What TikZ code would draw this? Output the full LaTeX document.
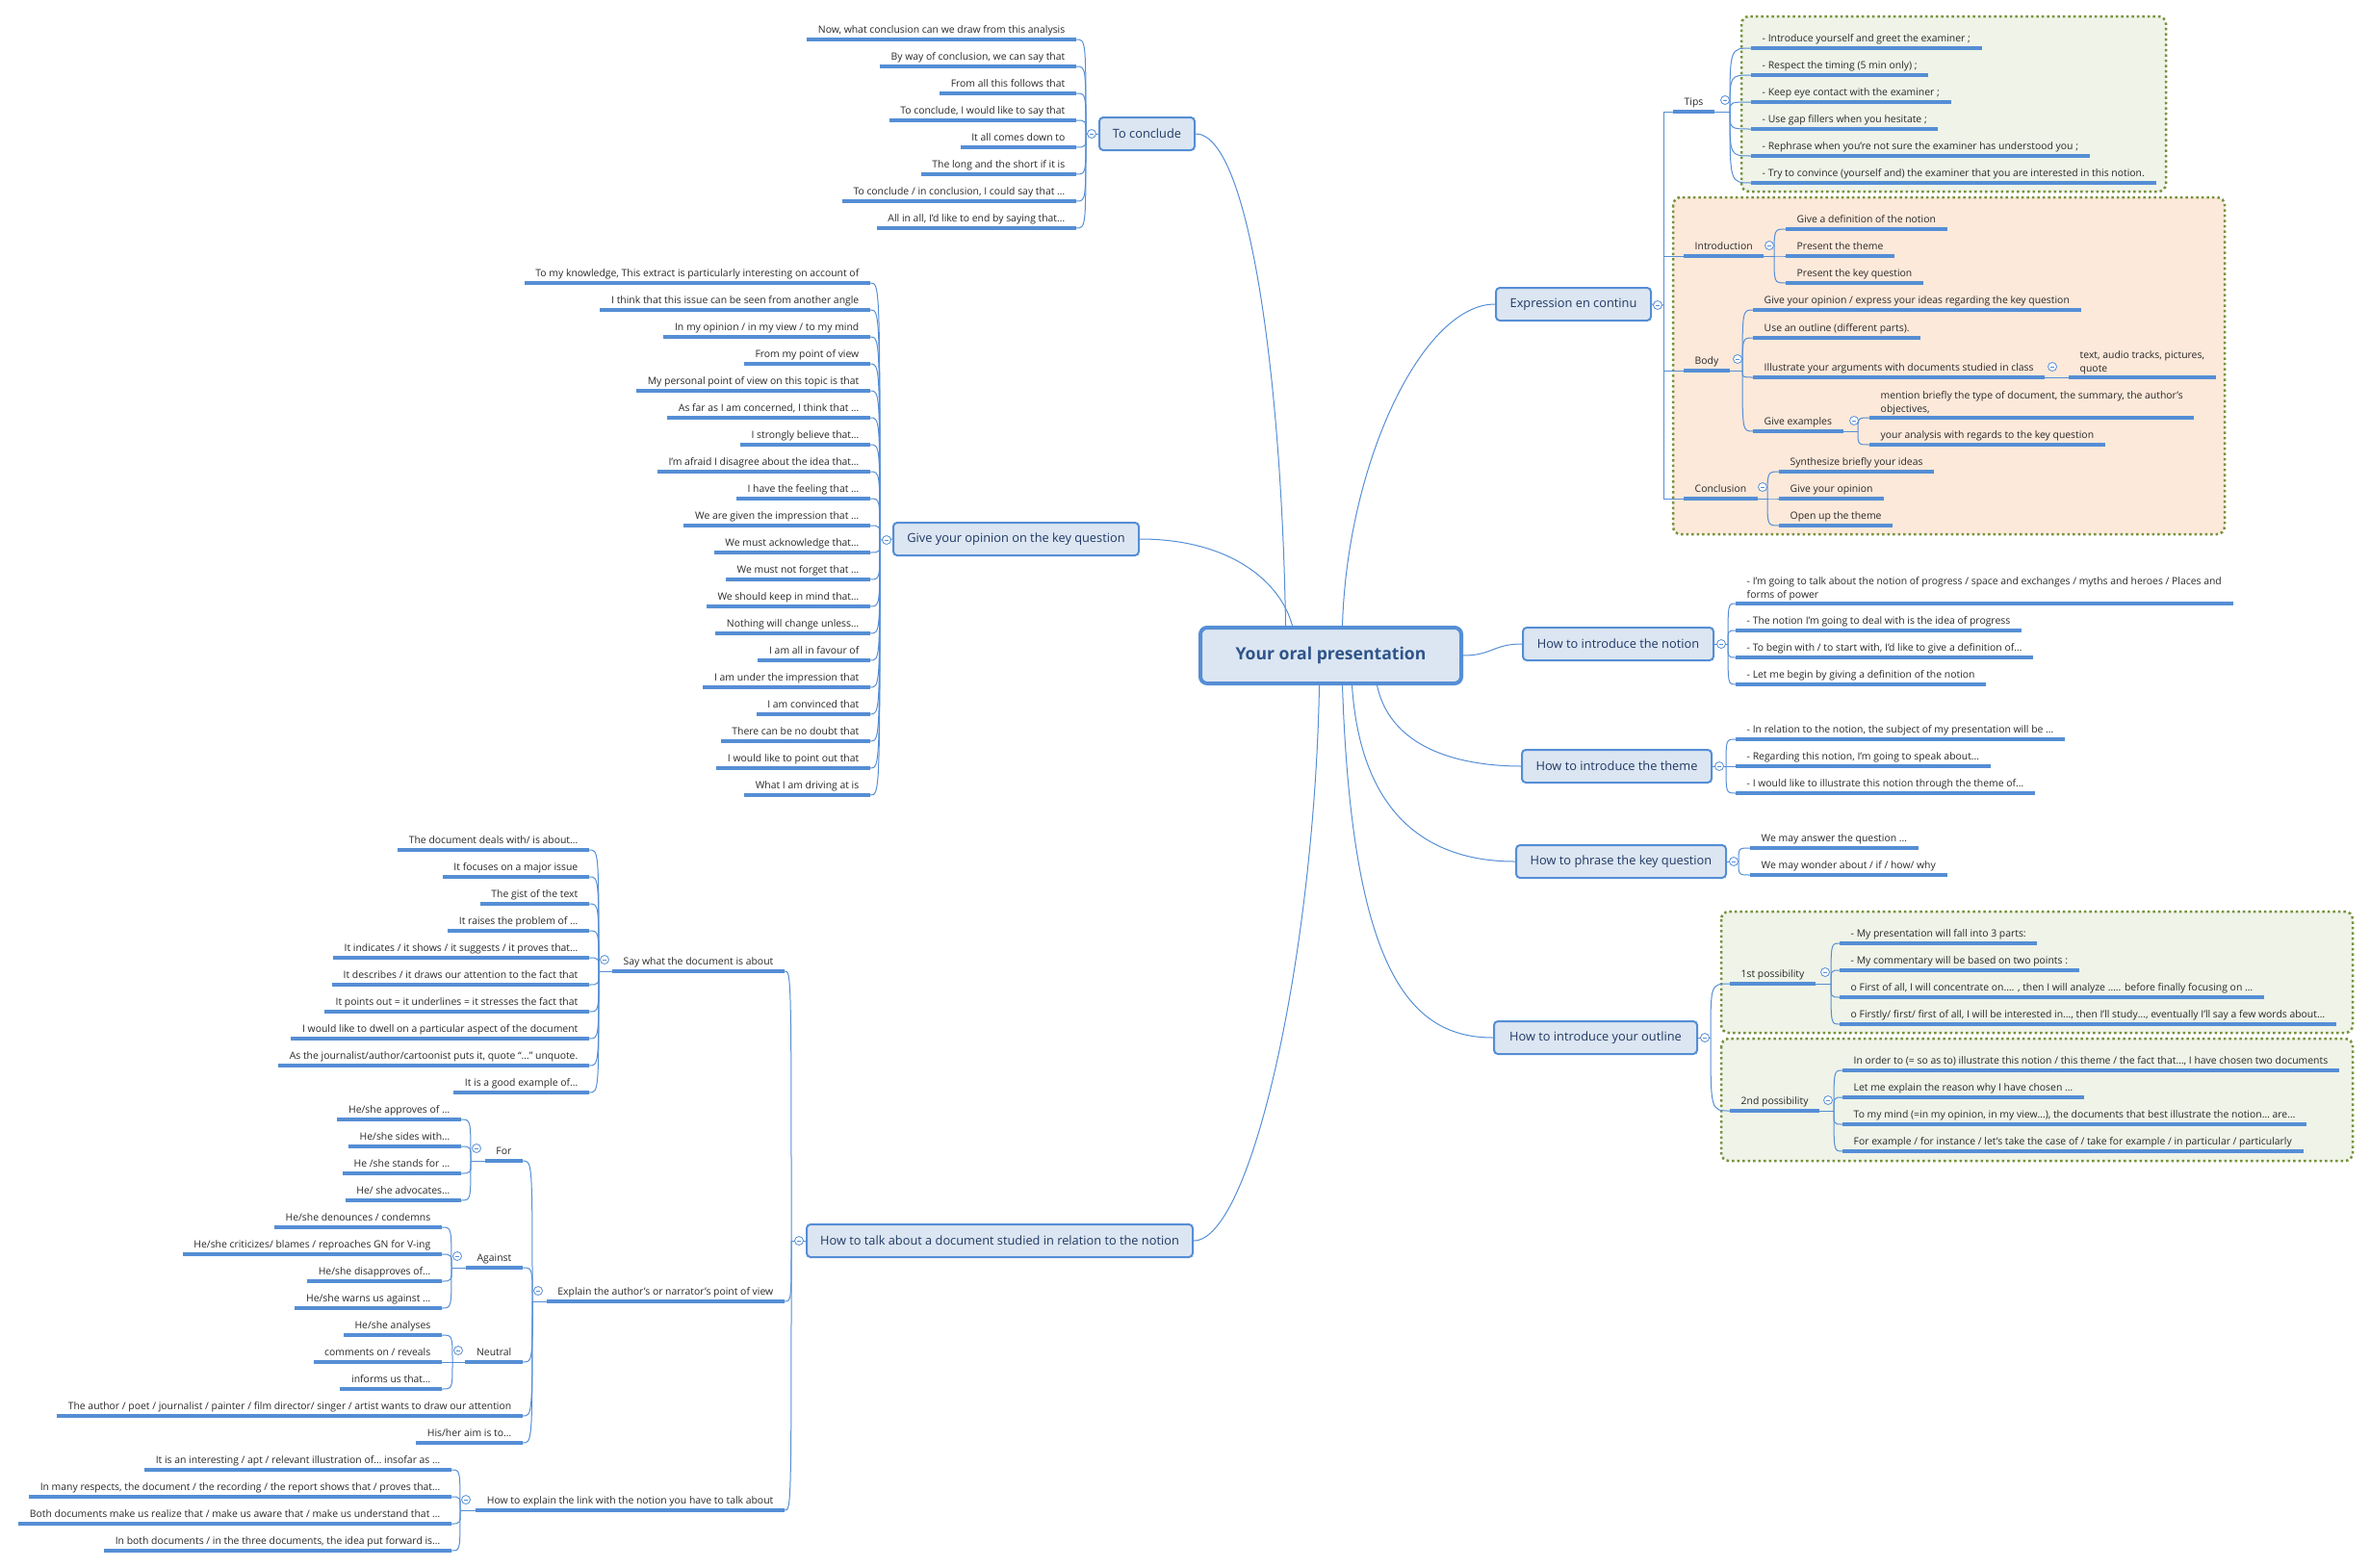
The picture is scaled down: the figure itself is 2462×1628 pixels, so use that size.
\documentclass[tikz,border=0pt]{standalone}
\usepackage{fontspec}
\setmainfont{Open Sans}
\usetikzlibrary{positioning}
\definecolor{linkblue}{RGB}{85,142,213}
\definecolor{boxfill}{RGB}{220,230,242}
\definecolor{topictext}{RGB}{31,56,100}
\definecolor{roottext}{RGB}{46,84,138}
\definecolor{leaftext}{RGB}{40,40,40}
\definecolor{zonegreen}{RGB}{239,243,232}
\definecolor{zonepeach}{RGB}{253,233,218}
\definecolor{zoneline}{RGB}{118,146,60}
\tikzset{
  bar/.style     = {draw=linkblue, line width=3.5pt},
  link/.style    = {draw=linkblue, line width=1pt},
  leaf/.style    = {font=\fontsize{10.4}{14}\selectfont, text=leaftext, inner xsep=11.5pt, inner ysep=3.3pt,
                    text height=7.8pt, text depth=2.6pt,
                    append after command={(\tikzlastnode.south west) edge[bar] (\tikzlastnode.south east)}},
  leafl/.style   = {leaf, anchor=south east},
  leafr/.style   = {leaf, anchor=south west},
  twoline/.style = {align=left, text height=, text depth=},
  topic/.style   = {draw=linkblue, fill=boxfill, line width=2pt, rounded corners=4pt, minimum height=34pt,
                    inner xsep=6pt, text=topictext, font=\fontsize{12.8}{15}\selectfont},
  root/.style    = {draw=linkblue, fill=boxfill, line width=4pt, rounded corners=7pt, minimum width=271pt,
                    minimum height=58pt, text=roottext, font=\fontsize{17.6}{20}\selectfont\bfseries},
  fold/.style    = {circle, draw=linkblue, fill=white, line width=0.8pt, minimum size=9pt, inner sep=0pt,
                    path picture={\draw[linkblue, line width=0.8pt] ([xshift=-2.3pt]path picture bounding box.center)
                    -- ([xshift=2.3pt]path picture bounding box.center);}},
  zone/.style    = {draw=zoneline, line width=2.5pt, dash pattern=on 2.5pt off 3pt, rounded corners=8pt}
}

\begin{document}
\begin{tikzpicture}[x=1pt, y=-1pt]
\useasboundingbox (0,0) rectangle (2462,1628);

% Framed areas
\draw[zone, fill=zonegreen] (1809,17) rectangle (2250,199);
\draw[zone, fill=zonepeach] (1738,205) rectangle (2311,555);
\draw[zone, fill=zonegreen] (1788,947) rectangle (2444,1073);
\draw[zone, fill=zonegreen] (1788,1079) rectangle (2444,1206);

% Central topic
\node[root] (root) at (1382.5,681) {Your oral presentation};

% Main topics
\node[topic, minimum width=99pt] (concl) at (1191.5,139) {To conclude};
\node[topic, minimum width=255pt] (opin) at (1055.5,560) {Give your opinion on the key question};
\node[topic, minimum width=401pt] (talk) at (1038.5,1289) {How to talk about a document studied in relation to the notion};
\node[topic, minimum width=161pt] (expr) at (1634.5,316) {Expression en continu};
\node[topic, minimum width=198pt] (notion) at (1681,669) {How to introduce the notion};
\node[topic, minimum width=197pt] (theme) at (1679.5,796) {How to introduce the theme};
\node[topic, minimum width=218pt] (phrase) at (1684,895) {How to phrase the key question};
\node[topic, minimum width=211pt] (outl) at (1657.5,1078) {How to introduce your outline};

% To conclude
\node[leafl] (c1) at (1118,41) {Now, what conclusion can we draw from this analysis};
\node[leafl] (c2) at (1118,69) {By way of conclusion, we can say that};
\node[leafl] (c3) at (1118,97) {From all this follows that};
\node[leafl] (c4) at (1118,125) {To conclude, I would like to say that};
\node[leafl] (c5) at (1118,153) {It all comes down to};
\node[leafl] (c6) at (1118,181) {The long and the short if it is};
\node[leafl] (c7) at (1118,209) {To conclude / in conclusion, I could say that …};
\node[leafl] (c8) at (1118,237) {All in all, I’d like to end by saying that…};
\coordinate (cj) at (1128,139);

% Give your opinion
\node[leafl] (o1) at (904,294) {To my knowledge, This extract is particularly interesting on account of};
\node[leafl] (o2) at (904,322) {I think that this issue can be seen from another angle};
\node[leafl] (o3) at (904,350) {In my opinion / in my view / to my mind};
\node[leafl] (o4) at (904,378) {From my point of view};
\node[leafl] (o5) at (904,406) {My personal point of view on this topic is that};
\node[leafl] (o6) at (904,434) {As far as I am concerned, I think that …};
\node[leafl] (o7) at (904,462) {I strongly believe that…};
\node[leafl] (o8) at (904,490) {I’m afraid I disagree about the idea that…};
\node[leafl] (o9) at (904,518) {I have the feeling that …};
\node[leafl] (o10) at (904,546) {We are given the impression that …};
\node[leafl] (o11) at (904,574) {We must acknowledge that…};
\node[leafl] (o12) at (904,602) {We must not forget that …};
\node[leafl] (o13) at (904,630) {We should keep in mind that…};
\node[leafl] (o14) at (904,658) {Nothing will change unless…};
\node[leafl] (o15) at (904,686) {I am all in favour of};
\node[leafl] (o16) at (904,714) {I am under the impression that};
\node[leafl] (o17) at (904,742) {I am convinced that};
\node[leafl] (o18) at (904,770) {There can be no doubt that};
\node[leafl] (o19) at (904,798) {I would like to point out that};
\node[leafl] (o20) at (904,826) {What I am driving at is};
\coordinate (oj) at (914,561);

% How to talk about a document
\node[leafl] (say) at (815,1009) {Say what the document is about};
\node[leafl] (expl) at (815,1352) {Explain the author’s or narrator’s point of view};
\node[leafl] (lnk) at (815,1569) {How to explain the link with the notion you have to talk about};
\coordinate (tj) at (822,1289);

\node[leafl] (s1) at (612,883) {The document deals with/ is about…};
\node[leafl] (s2) at (612,911) {It focuses on a major issue};
\node[leafl] (s3) at (612,939) {The gist of the text};
\node[leafl] (s4) at (612,967) {It raises the problem of …};
\node[leafl] (s5) at (612,995) {It indicates / it shows / it suggests / it proves that…};
\node[leafl] (s6) at (612,1023) {It describes / it draws our attention to the fact that};
\node[leafl] (s7) at (612,1051) {It points out = it underlines = it stresses the fact that};
\node[leafl] (s8) at (612,1079) {I would like to dwell on a particular aspect of the document};
\node[leafl] (s9) at (612,1107) {As the journalist/author/cartoonist puts it, quote “…” unquote.};
\node[leafl] (s10) at (612,1135) {It is a good example of…};
\coordinate (sj) at (622,1009);

\node[leafl] (pro) at (543,1206) {For};
\node[leafl] (contra) at (543,1317) {Against};
\node[leafl] (neutral) at (543,1415) {Neutral};
\node[leafl] (x4) at (543,1471) {The author / poet / journalist / painter / film director/ singer / artist wants to draw our attention};
\node[leafl] (x5) at (543,1499) {His/her aim is to…};
\coordinate (xj) at (553,1352);

\node[leafl] (f1) at (479,1163) {He/she approves of …};
\node[leafl] (f2) at (479,1191) {He/she sides with…};
\node[leafl] (f3) at (479,1219) {He /she stands for …};
\node[leafl] (f4) at (479,1247) {He/ she advocates…};
\coordinate (fj) at (489,1206);

\node[leafl] (a1) at (459,1275) {He/she denounces / condemns};
\node[leafl] (a2) at (459,1303) {He/she criticizes/ blames / reproaches GN for V-ing};
\node[leafl] (a3) at (459,1331) {He/she disapproves of…};
\node[leafl] (a4) at (459,1359) {He/she warns us against …};
\coordinate (aj) at (469,1317);

\node[leafl] (n1) at (459,1387) {He/she analyses};
\node[leafl] (n2) at (459,1415) {comments on / reveals};
\node[leafl] (n3) at (459,1443) {informs us that…};
\coordinate (nj) at (470,1415);

\node[leafl] (l1) at (469,1527) {It is an interesting / apt / relevant illustration of… insofar as …};
\node[leafl] (l2) at (469,1555) {In many respects, the document / the recording / the report shows that / proves that…};
\node[leafl] (l3) at (469,1583) {Both documents make us realize that / make us aware that / make us understand that …};
\node[leafl] (l4) at (469,1611) {In both documents / in the three documents, the idea put forward is…};
\coordinate (lj) at (478,1569);

% Expression en continu
\coordinate (ej) at (1728,317);
\node[leafr] (tips) at (1738,116) {Tips};
\node[leafr] (intro) at (1749,266) {Introduction};
\node[leafr] (body) at (1749,385) {Body};
\node[leafr] (conc) at (1749,518) {Conclusion};

\node[leafr] (t1) at (1819,50) {- Introduce yourself and greet the examiner ;};
\node[leafr] (t2) at (1819,78) {- Respect the timing (5 min only) ;};
\node[leafr] (t3) at (1819,106) {- Keep eye contact with the examiner ;};
\node[leafr] (t4) at (1819,134) {- Use gap fillers when you hesitate ;};
\node[leafr] (t5) at (1819,162) {- Rephrase when you’re not sure the examiner has understood you ;};
\node[leafr] (t6) at (1819,190) {- Try to convince (yourself and) the examiner that you are interested in this notion.};
\coordinate (tpj) at (1797,116);

\node[leafr] (i1) at (1855,238) {Give a definition of the notion};
\node[leafr] (i2) at (1855,266) {Present the theme};
\node[leafr] (i3) at (1855,294) {Present the key question};
\coordinate (ij) at (1843,266);

\node[leafr] (b1) at (1821,322) {Give your opinion / express your ideas regarding the key question};
\node[leafr] (b2) at (1821,351) {Use an outline (different parts).};
\node[leafr] (b3) at (1821,392) {Illustrate your arguments with documents studied in class};
\node[leafr] (b4) at (1821,448) {Give examples};
\coordinate (bj) at (1810,385);
\node[leafr, twoline] (b3a) at (2149,392) {text, audio tracks, pictures,\\quote};
\node[leafr, twoline] (g1) at (1942,434) {mention briefly the type of document, the summary, the author’s\\objectives,};
\node[leafr] (g2) at (1942,462) {your analysis with regards to the key question};
\coordinate (gj) at (1930,448);

\node[leafr] (k1) at (1848,490) {Synthesize briefly your ideas};
\node[leafr] (k2) at (1848,518) {Give your opinion};
\node[leafr] (k3) at (1848,546) {Open up the theme};
\coordinate (kj) at (1836,518);

% How to introduce the notion
\node[leafr, twoline] (m1) at (1803,627) {- I’m going to talk about the notion of progress / space and exchanges / myths and heroes / Places and\\forms of power};
\node[leafr] (m2) at (1803,655) {- The notion I’m going to deal with is the idea of progress};
\node[leafr] (m3) at (1803,683) {- To begin with / to start with, I’d like to give a definition of…};
\node[leafr] (m4) at (1803,711) {- Let me begin by giving a definition of the notion};
\coordinate (mj) at (1795,669);

% How to introduce the theme
\node[leafr] (h1) at (1803,768) {- In relation to the notion, the subject of my presentation will be …};
\node[leafr] (h2) at (1803,796) {- Regarding this notion, I’m going to speak about…};
\node[leafr] (h3) at (1803,824) {- I would like to illustrate this notion through the theme of…};
\coordinate (hj) at (1793,796);

% How to phrase the key question
\node[leafr] (p1) at (1818,881) {We may answer the question …};
\node[leafr] (p2) at (1818,909) {We may wonder about / if / how/ why};
\coordinate (pj) at (1806,895);

% How to introduce your outline
\node[leafr] (pos1) at (1797,1022) {1st possibility};
\node[leafr] (pos2) at (1797,1154) {2nd possibility};
\coordinate (uj) at (1777,1078);

\node[leafr] (q1) at (1911,980) {- My presentation will fall into 3 parts:};
\node[leafr] (q2) at (1911,1008) {- My commentary will be based on two points :};
\node[leafr] (q3) at (1911,1036) {o First of all, I will concentrate on…. , then I will analyze ….. before finally focusing on …};
\node[leafr] (q4) at (1911,1064) {o Firstly/ first/ first of all, I will be interested in…, then I’ll study…, eventually I’ll say a few words about…};
\coordinate (q1j) at (1902,1022);

\node[leafr] (r1) at (1914,1112) {In order to (= so as to) illustrate this notion / this theme / the fact that…, I have chosen two documents};
\node[leafr] (r2) at (1914,1140) {Let me explain the reason why I have chosen …};
\node[leafr] (r3) at (1914,1168) {To my mind (=in my opinion, in my view…), the documents that best illustrate the notion… are…};
\node[leafr] (r4) at (1914,1196) {For example / for instance / let’s take the case of / take for example / in particular / particularly};
\coordinate (q2j) at (1905,1154);

% Connections from the central topic
\draw[link] (concl.east) .. controls +(55,0) and +(-4,-260) .. ([xshift=-47pt]root.north);
\draw[link] (opin.east) .. controls +(95,0) and +(-12,-45) .. ([xshift=-40pt]root.north);
\draw[link] (expr.west) .. controls +(-75,0) and +(5,-170) .. ([xshift=12pt]root.north);
\draw[link] (root.east) .. controls +(30,0) and +(-30,0) .. (notion.west);
\draw[link] ([xshift=48pt]root.south) .. controls +(15,70) and +(-55,0) .. (theme.west);
\draw[link] ([xshift=22pt]root.south) .. controls +(10,150) and +(-75,0) .. (phrase.west);
\draw[link] ([xshift=12pt]root.south) .. controls +(10,300) and +(-85,0) .. (outl.west);
\draw[link] (talk.east) .. controls +(60,0) and +(-5,280) .. ([xshift=-12pt]root.south);

% Connections to the left
\draw[link] (concl.west) -- (cj);
\foreach \i in {1,...,8} \draw[link] (cj) .. controls (cj |- c\i.south east) .. (c\i.south east);
\draw[link] (opin.west) -- (oj);
\foreach \i in {1,...,20} \draw[link] (oj) .. controls (oj |- o\i.south east) .. (o\i.south east);
\draw[link] (talk.west) -- (tj);
\foreach \n in {say,expl,lnk} \draw[link] (tj) .. controls (tj |- \n.south east) .. (\n.south east);
\draw[link] (say.south west) -- (sj);
\foreach \i in {1,...,10} \draw[link] (sj) .. controls (sj |- s\i.south east) .. (s\i.south east);
\draw[link] (expl.south west) -- (xj);
\foreach \n in {pro,contra,neutral,x4,x5} \draw[link] (xj) .. controls (xj |- \n.south east) .. (\n.south east);
\draw[link] (pro.south west) -- (fj);
\foreach \i in {1,...,4} \draw[link] (fj) .. controls (fj |- f\i.south east) .. (f\i.south east);
\draw[link] (contra.south west) -- (aj);
\foreach \i in {1,...,4} \draw[link] (aj) .. controls (aj |- a\i.south east) .. (a\i.south east);
\draw[link] (neutral.south west) -- (nj);
\foreach \i in {1,...,3} \draw[link] (nj) .. controls (nj |- n\i.south east) .. (n\i.south east);
\draw[link] (lnk.south west) -- (lj);
\foreach \i in {1,...,4} \draw[link] (lj) .. controls (lj |- l\i.south east) .. (l\i.south east);

% Connections to the right
\draw[link] (expr.east) -- (ej);
\foreach \n in {tips,intro,body,conc} \draw[link] (ej) |- (\n.south west);
\draw[link] (tips.south east) -- (tpj);
\foreach \i in {1,...,6} \draw[link] (tpj) .. controls (tpj |- t\i.south west) .. (t\i.south west);
\draw[link] (intro.south east) -- (ij);
\foreach \i in {1,...,3} \draw[link] (ij) .. controls (ij |- i\i.south west) .. (i\i.south west);
\draw[link] (body.south east) -- (bj);
\foreach \i in {1,...,4} \draw[link] (bj) .. controls (bj |- b\i.south west) .. (b\i.south west);
\draw[link] (b3.south east) -- (b3a.south west);
\draw[link] (b4.south east) -- (gj);
\foreach \i in {1,2} \draw[link] (gj) .. controls (gj |- g\i.south west) .. (g\i.south west);
\draw[link] (conc.south east) -- (kj);
\foreach \i in {1,...,3} \draw[link] (kj) .. controls (kj |- k\i.south west) .. (k\i.south west);
\draw[link] (notion.east) -- (mj);
\foreach \i in {1,...,4} \draw[link] (mj) .. controls (mj |- m\i.south west) .. (m\i.south west);
\draw[link] (theme.east) -- (hj);
\foreach \i in {1,...,3} \draw[link] (hj) .. controls (hj |- h\i.south west) .. (h\i.south west);
\draw[link] (phrase.east) -- (pj);
\foreach \i in {1,2} \draw[link] (pj) .. controls (pj |- p\i.south west) .. (p\i.south west);
\draw[link] (outl.east) -- (uj);
\foreach \n in {pos1,pos2} \draw[link] (uj) .. controls (uj |- \n.south west) .. (\n.south west);
\draw[link] (pos1.south east) -- (q1j);
\foreach \i in {1,...,4} \draw[link] (q1j) .. controls (q1j |- q\i.south west) .. (q\i.south west);
\draw[link] (pos2.south east) -- (q2j);
\foreach \i in {1,...,4} \draw[link] (q2j) .. controls (q2j |- r\i.south west) .. (r\i.south west);

% Fold markers
\node[fold] (cf) at (1134,139) {};
\node[fold] (of) at (921,561) {};
\node[fold] (tf) at (830,1289) {};
\node[fold] (sf) at (628,997) {};
\node[fold] (xf) at (559,1341) {};
\node[fold] (ff) at (495,1193) {};
\node[fold] (af) at (475,1305) {};
\node[fold] (nf) at (476,1403) {};
\node[fold] (lf) at (484,1558) {};
\node[fold] (ef) at (1722,317) {};
\node[fold] (tpf) at (1792,104) {};
\node[fold] (if) at (1838,255) {};
\node[fold] (bf) at (1805,373) {};
\node[fold] (b3f) at (2132,381) {};
\node[fold] (gf) at (1926,437) {};
\node[fold] (kf) at (1831,506) {};
\node[fold] (mf) at (1788,669) {};
\node[fold] (hf) at (1786,796) {};
\node[fold] (pf) at (1801,895) {};
\node[fold] (uf) at (1771,1078) {};
\node[fold] (q1f) at (1896,1010) {};
\node[fold] (q2f) at (1899,1143) {};

\end{tikzpicture}
\end{document}
